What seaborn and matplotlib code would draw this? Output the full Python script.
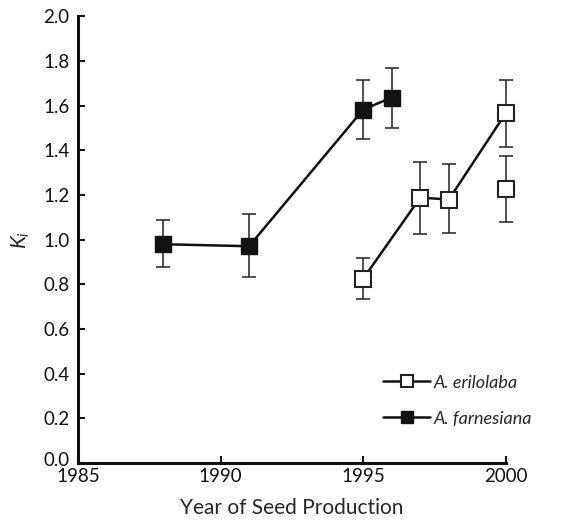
import numpy as np
import pandas as pd
import seaborn as sns
from matplotlib import pyplot as plt
from matplotlib import transforms

# Werte
far_years = [1988, 1991, 1995, 1996]
far_k = [0.979, 0.970, 1.582, 1.636]
far_lo = [0.875, 0.831, 1.448, 1.501]
far_hi = [1.087, 1.113, 1.716, 1.770]

eri_years = [1995, 1997, 1998, 2000]
eri_k = [0.825, 1.188, 1.179, 1.567]
eri_lo = [0.733, 1.025, 1.028, 1.415]
eri_hi = [0.918, 1.345, 1.337, 1.713]

# zweiter Wert fuer 2000, nicht verbunden
eri2_years = [2000]
eri2_k = [1.228]
eri2_lo = [1.079]
eri2_hi = [1.373]

sns.set_style("ticks")
plt.rcParams['font.family'] = ['Lato', 'DejaVu Sans']
plt.rcParams['mathtext.fontset'] = 'custom'
plt.rcParams['mathtext.rm'] = 'Lato'
plt.rcParams['mathtext.it'] = 'Lato:italic'

df_far = pd.DataFrame({'year': far_years, 'k': far_k, 'lo': far_lo, 'hi': far_hi})
df_eri = pd.DataFrame({'year': eri_years, 'k': eri_k, 'lo': eri_lo, 'hi': eri_hi})
df_eri2 = pd.DataFrame({'year': eri2_years, 'k': eri2_k, 'lo': eri2_lo, 'hi': eri2_hi})

fig = plt.figure(figsize=(5.64, 5.23), dpi=100)
ax = fig.add_axes([0.138, 0.115, 0.759, 0.854])

for d in [df_far, df_eri, df_eri2]:
    eb = ax.errorbar(d['year'], d['k'], yerr=[d['k'] - d['lo'], d['hi'] - d['k']],
                     fmt='none', ecolor='#222222', elinewidth=1.1, capsize=5, capthick=1.1, zorder=2)
    for art in eb.lines[1] + eb.lines[2]:
        art.set_clip_on(False)

sns.lineplot(data=df_eri, x='year', y='k', ax=ax, color='#111111', lw=1.8,
             marker='s', markersize=12, markerfacecolor='white', markeredgecolor='#222222',
             markeredgewidth=1.5, label='A. erilolaba', zorder=3, clip_on=False)
sns.lineplot(data=df_far, x='year', y='k', ax=ax, color='#111111', lw=1.8,
             marker='s', markersize=12, markerfacecolor='#111111', markeredgecolor='#111111',
             markeredgewidth=1.0, label='A. farnesiana', zorder=3, clip_on=False)
sns.scatterplot(data=df_eri2, x='year', y='k', ax=ax, marker='s', s=144,
                facecolor='white', edgecolor='#222222', linewidth=1.5, zorder=3,
                legend=False, clip_on=False)

ax.set_xlim(1985, 2000)
ax.set_ylim(0, 2.0)
ax.set_xticks([1985, 1990, 1995, 2000])
ax.set_yticks(np.arange(0, 2.01, 0.2))
ax.set_yticklabels([f'{v:.1f}' for v in np.arange(0, 2.01, 0.2)])
ax.tick_params(direction='in', length=5, width=1.5, labelsize=13.5, colors='#111111')
ax.tick_params(axis='x', pad=4)
ax.tick_params(axis='y', pad=6)
for s in ['left', 'bottom']:
    ax.spines[s].set_linewidth(2.2)
    ax.spines[s].set_color('#111111')
sns.despine(ax=ax)
ax.spines['left'].set_zorder(5)
ax.spines['bottom'].set_zorder(5)

# "0.0" etwas anheben, damit es nicht in "1985" laeuft
lab0 = ax.get_yticklabels()[0]
lab0.set_transform(lab0.get_transform() + transforms.ScaledTranslation(0, 3 / 72, fig.dpi_scale_trans))

ax.set_xlabel('Year of Seed Production', fontsize=15, labelpad=9)
ax.set_ylabel(r'$K_i$', fontsize=15, labelpad=8)

leg = ax.legend(loc='lower right', bbox_to_anchor=(1.1, 0.045), frameon=False,
                prop={'style': 'italic', 'size': 13}, handlelength=2.6,
                handletextpad=0.2, labelspacing=1.1, numpoints=1, markerscale=0.75)

fig.savefig('out.png', dpi=100)
